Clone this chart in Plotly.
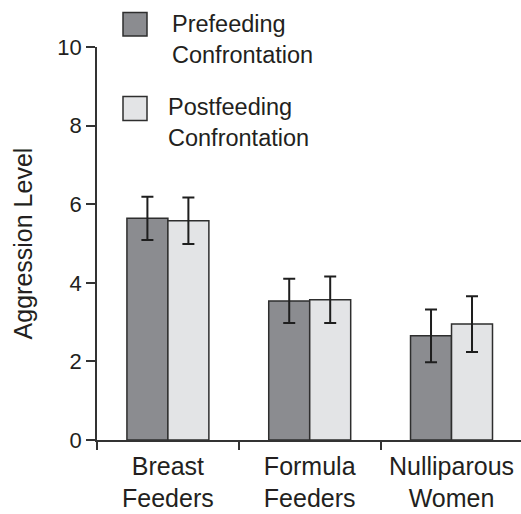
import plotly.graph_objects as go

categories = ["Breast<br>Feeders", "Formula<br>Feeders", "Nulliparous<br>Women"]
series_names = ["Prefeeding<br>Confrontation", "Postfeeding<br>Confrontation"]
prefeeding = [5.64, 3.54, 2.65]
prefeeding_err = [0.55, 0.56, 0.67]
postfeeding = [5.58, 3.57, 2.95]
postfeeding_err = [0.59, 0.59, 0.71]
y_ticks = [0, 2, 4, 6, 8, 10]

W, H = 521, 514
L, R, T, B = 97, 0, 47, 74
PW, PH = W - L - R, H - T - B

def px(xp):
    return (xp - L) / PW

def py(yp):
    return (H - B - yp) / PH

FONT = "Liberation Sans, Arial, Helvetica, sans-serif"
TXT = "#231f20"
DARK = "#8b8c90"
LIGHT = "#e3e4e6"
EDGE = "#2e2e2e"

fig = go.Figure()
for name, vals, errs, col in [(series_names[0], prefeeding, prefeeding_err, DARK),
                              (series_names[1], postfeeding, postfeeding_err, LIGHT)]:
    fig.add_trace(go.Bar(
        x=categories, y=vals, name=name,
        marker=dict(color=col, line=dict(color=EDGE, width=1.5)),
        error_y=dict(type="data", array=errs, visible=True, color="#1e1e1e", thickness=2, width=6),
        showlegend=False,
    ))

# custom legend (large swatches)
legend_items = [
    dict(x0=123, x1=147, y0=12.5, y1=36, tx=170, ty=39, col=DARK, text=series_names[0]),
    dict(x0=123, x1=147, y0=96.5, y1=120.5, tx=166, ty=122.5, col=LIGHT, text=series_names[1]),
]
shapes = []
annotations = []
for it in legend_items:
    shapes.append(dict(type="rect", xref="paper", yref="paper",
                       x0=px(it["x0"]), x1=px(it["x1"]), y0=py(it["y1"]), y1=py(it["y0"]),
                       fillcolor=it["col"], line=dict(color=EDGE, width=1.5)))
    annotations.append(dict(xref="paper", yref="paper", x=px(it["tx"]), y=py(it["ty"]),
                            xanchor="left", yanchor="middle", align="left", showarrow=False,
                            text=it["text"], font=dict(family=FONT, size=23.5, color=TXT)))

fig.update_layout(
    width=W, height=H,
    margin=dict(l=L, r=R, t=T, b=B, autoexpand=False),
    paper_bgcolor="white", plot_bgcolor="white",
    barmode="group", bargap=0.422, bargroupgap=0,
    font=dict(family=FONT, color=TXT),
    shapes=shapes, annotations=annotations,
    xaxis=dict(
        type="category", range=[-0.5, 2.49], tickson="boundaries",
        ticks="outside", ticklen=8, tickwidth=1.5, tickcolor="#333",
        showline=True, linecolor="#333", linewidth=1.5,
        showgrid=False, zeroline=False, automargin=False,
        ticklabelstandoff=3,
        tickfont=dict(family=FONT, size=25, color=TXT),
    ),
    yaxis=dict(
        range=[0, 10], tickvals=y_ticks, ticktext=[str(v) for v in y_ticks],
        ticks="outside", ticklen=9, tickwidth=1.5, tickcolor="#333",
        showline=True, linecolor="#333", linewidth=1.5,
        showgrid=False, zeroline=False, automargin=False,
        tickfont=dict(family=FONT, size=22, color=TXT),
        title=dict(text="Aggression Level", font=dict(family=FONT, size=25, color=TXT), standoff=18),
    ),
)

fig.write_html("out.html")
